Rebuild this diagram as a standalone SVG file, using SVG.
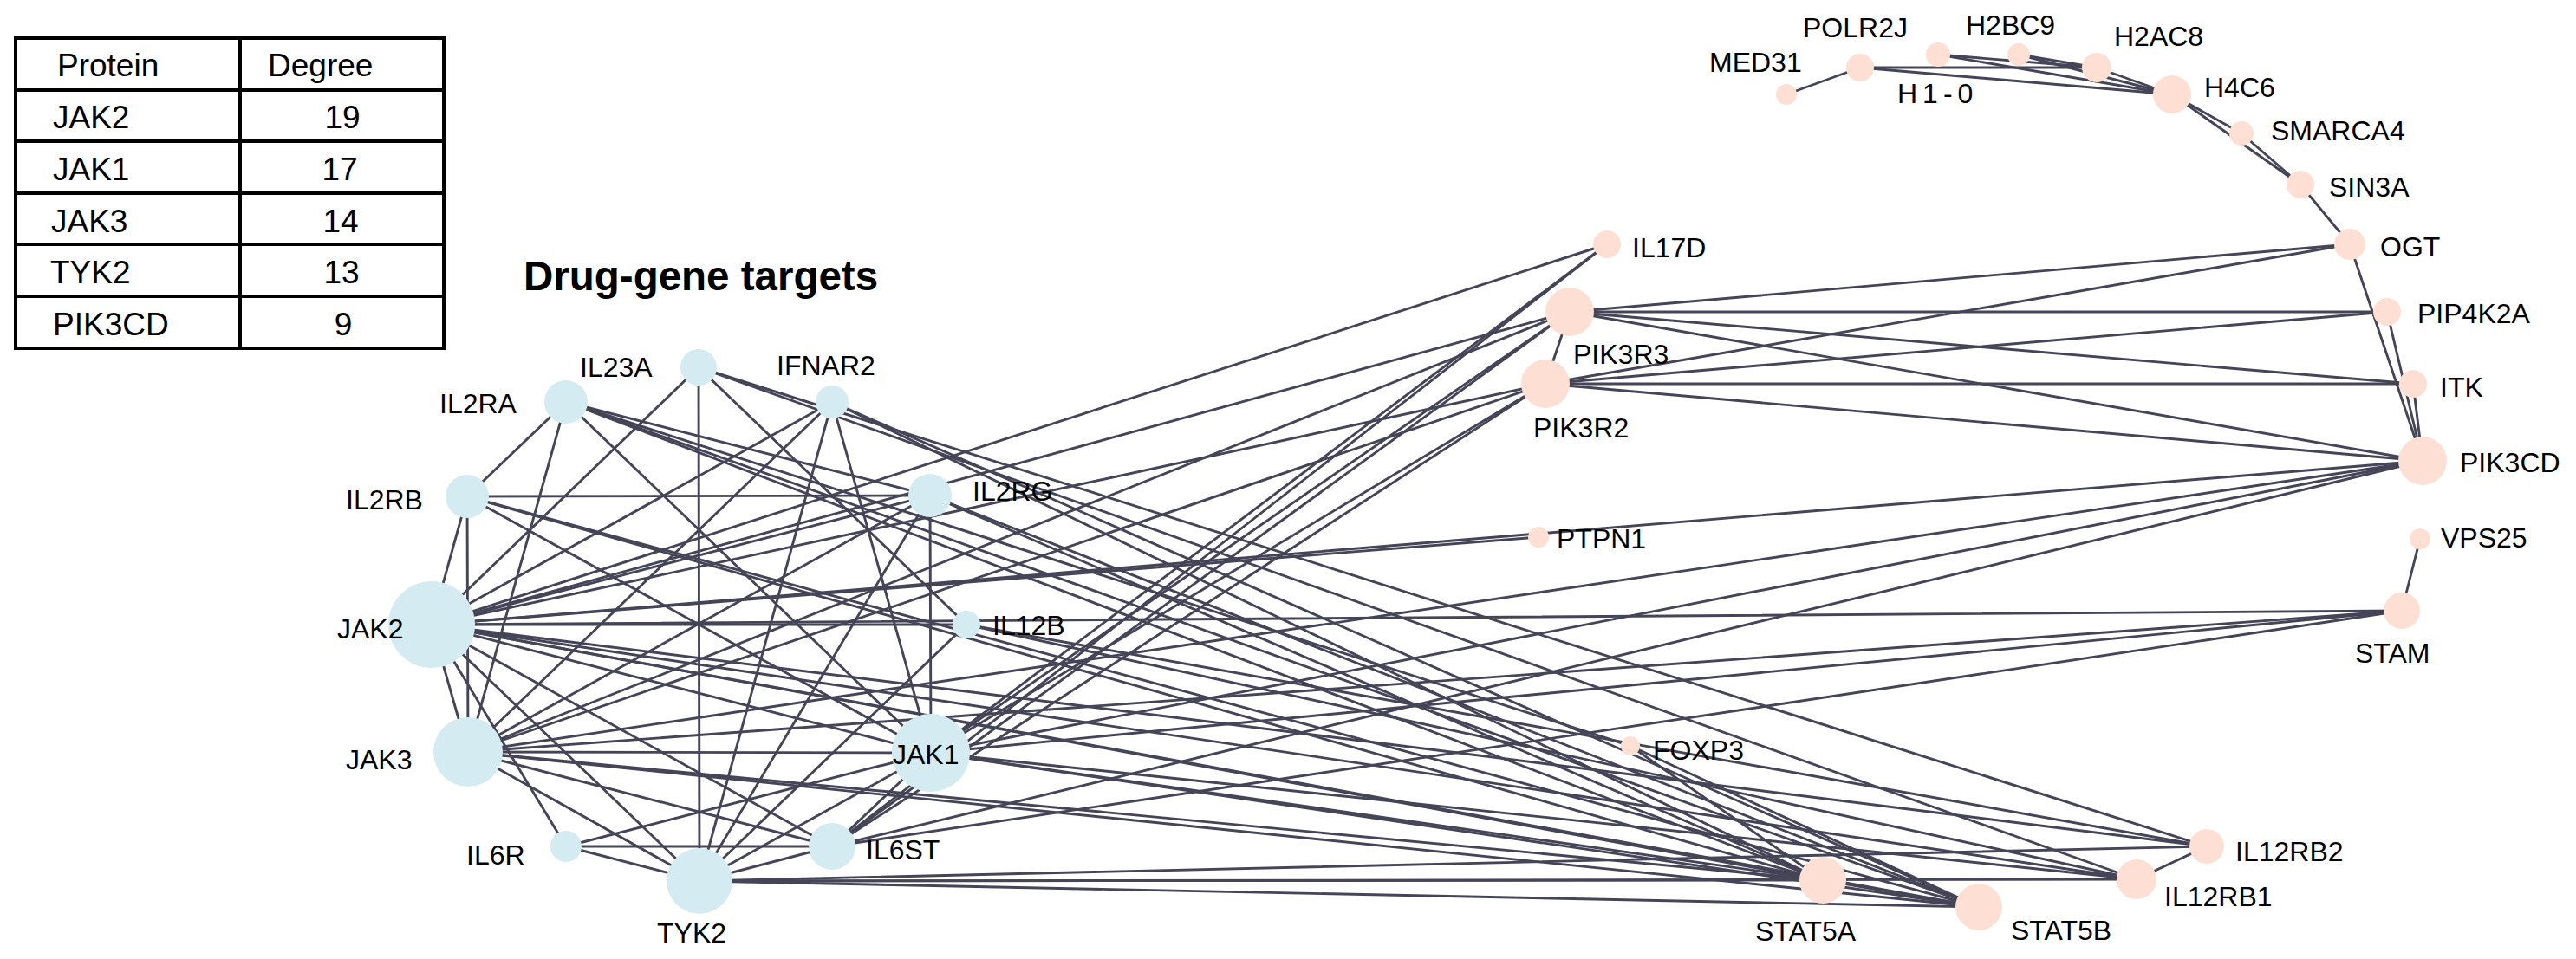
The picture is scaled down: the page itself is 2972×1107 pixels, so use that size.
<svg xmlns="http://www.w3.org/2000/svg" width="2972" height="1107" viewBox="0 0 2972 1107">
<style>
.bg{fill:#ffffff}
.tbl line,.tbl rect{stroke:#000;stroke-width:4;fill:none}
.tt{font-family:"Liberation Sans",Arial,sans-serif;font-size:37px;fill:#000}
.title{font-family:"Liberation Sans",Arial,sans-serif;font-size:47.5px;font-weight:bold;fill:#000}
.edges line{stroke:#454557;stroke-width:2.9;stroke-linecap:round}
.d{fill:#d4ebf2}
.p{fill:#fde0d3}
.lb{font-family:"Liberation Sans",Arial,sans-serif;font-size:32px;fill:#000}
</style>
<rect class="bg" x="0" y="0" width="2972" height="1107"/>
<g id="table" class="tbl">
<rect x="18" y="44" width="494" height="358"/>
<line x1="277" y1="44" x2="277" y2="402"/>
<line x1="18" y1="104" x2="512" y2="104"/>
<line x1="18" y1="163" x2="512" y2="163"/>
<line x1="18" y1="223" x2="512" y2="223"/>
<line x1="18" y1="282" x2="512" y2="282"/>
<line x1="18" y1="342" x2="512" y2="342"/>
</g>
<g id="table-text">
<text class="tt" x="66" y="88">Protein</text>
<text class="tt" x="309" y="88">Degree</text>
<text class="tt" x="61" y="148">JAK2</text>
<text class="tt" x="61" y="208">JAK1</text>
<text class="tt" x="59" y="268">JAK3</text>
<text class="tt" x="58" y="327">TYK2</text>
<text class="tt" x="61" y="387">PIK3CD</text>
<text class="tt" x="395" y="148" text-anchor="middle">19</text>
<text class="tt" x="392" y="208" text-anchor="middle">17</text>
<text class="tt" x="393" y="268" text-anchor="middle">14</text>
<text class="tt" x="394" y="327" text-anchor="middle">13</text>
<text class="tt" x="396" y="387" text-anchor="middle">9</text>
</g>
<text id="title" class="title" x="604" y="335">Drug-gene targets</text>
<g id="edges" class="edges">
<line x1="498" y1="721" x2="539" y2="573"/>
<line x1="498" y1="721" x2="806" y2="424"/>
<line x1="498" y1="721" x2="960" y2="464"/>
<line x1="498" y1="721" x2="1073" y2="572"/>
<line x1="498" y1="721" x2="1115" y2="721"/>
<line x1="498" y1="721" x2="1074" y2="869"/>
<line x1="498" y1="721" x2="960" y2="977"/>
<line x1="498" y1="721" x2="807" y2="1017"/>
<line x1="498" y1="721" x2="653" y2="977"/>
<line x1="498" y1="721" x2="540" y2="868"/>
<line x1="540" y1="868" x2="539" y2="573"/>
<line x1="540" y1="868" x2="653" y2="464"/>
<line x1="540" y1="868" x2="1073" y2="572"/>
<line x1="540" y1="868" x2="960" y2="464"/>
<line x1="540" y1="868" x2="1074" y2="869"/>
<line x1="540" y1="868" x2="807" y2="1017"/>
<line x1="540" y1="868" x2="960" y2="977"/>
<line x1="1074" y1="869" x2="653" y2="464"/>
<line x1="1074" y1="869" x2="539" y2="573"/>
<line x1="1074" y1="869" x2="1073" y2="572"/>
<line x1="1074" y1="869" x2="960" y2="464"/>
<line x1="1074" y1="869" x2="653" y2="977"/>
<line x1="1074" y1="869" x2="960" y2="977"/>
<line x1="1074" y1="869" x2="807" y2="1017"/>
<line x1="807" y1="1017" x2="806" y2="424"/>
<line x1="807" y1="1017" x2="960" y2="464"/>
<line x1="807" y1="1017" x2="1115" y2="721"/>
<line x1="807" y1="1017" x2="960" y2="977"/>
<line x1="807" y1="1017" x2="653" y2="977"/>
<line x1="807" y1="1017" x2="1073" y2="572"/>
<line x1="653" y1="977" x2="960" y2="977"/>
<line x1="653" y1="464" x2="539" y2="573"/>
<line x1="539" y1="573" x2="1073" y2="572"/>
<line x1="653" y1="464" x2="1073" y2="572"/>
<line x1="806" y1="424" x2="1115" y2="721"/>
<line x1="498" y1="721" x2="1854" y2="282"/>
<line x1="498" y1="721" x2="1811" y2="360"/>
<line x1="498" y1="721" x2="1783" y2="443"/>
<line x1="498" y1="721" x2="1775" y2="620"/>
<line x1="498" y1="721" x2="2795" y2="532"/>
<line x1="498" y1="721" x2="2771" y2="705"/>
<line x1="498" y1="721" x2="2103" y2="1016"/>
<line x1="498" y1="721" x2="2283" y2="1047"/>
<line x1="498" y1="721" x2="2465" y2="1015"/>
<line x1="498" y1="721" x2="2546" y2="977"/>
<line x1="540" y1="868" x2="1811" y2="360"/>
<line x1="540" y1="868" x2="1783" y2="443"/>
<line x1="540" y1="868" x2="2795" y2="532"/>
<line x1="540" y1="868" x2="2771" y2="705"/>
<line x1="540" y1="868" x2="2103" y2="1016"/>
<line x1="540" y1="868" x2="2283" y2="1047"/>
<line x1="1074" y1="869" x2="1854" y2="282"/>
<line x1="1074" y1="869" x2="1811" y2="360"/>
<line x1="1074" y1="869" x2="1783" y2="443"/>
<line x1="1074" y1="869" x2="2795" y2="532"/>
<line x1="1074" y1="869" x2="2771" y2="705"/>
<line x1="1074" y1="869" x2="2103" y2="1016"/>
<line x1="1074" y1="869" x2="2283" y2="1047"/>
<line x1="1074" y1="869" x2="2465" y2="1015"/>
<line x1="960" y1="977" x2="1854" y2="282"/>
<line x1="960" y1="977" x2="1811" y2="360"/>
<line x1="960" y1="977" x2="1783" y2="443"/>
<line x1="960" y1="977" x2="2795" y2="532"/>
<line x1="960" y1="977" x2="2771" y2="705"/>
<line x1="807" y1="1017" x2="2103" y2="1016"/>
<line x1="807" y1="1017" x2="2283" y2="1047"/>
<line x1="807" y1="1017" x2="2465" y2="1015"/>
<line x1="807" y1="1017" x2="2546" y2="977"/>
<line x1="653" y1="464" x2="2103" y2="1016"/>
<line x1="653" y1="464" x2="2283" y2="1047"/>
<line x1="653" y1="464" x2="1881" y2="861"/>
<line x1="539" y1="573" x2="2103" y2="1016"/>
<line x1="539" y1="573" x2="2283" y2="1047"/>
<line x1="1073" y1="572" x2="2103" y2="1016"/>
<line x1="1073" y1="572" x2="2283" y2="1047"/>
<line x1="960" y1="464" x2="2103" y2="1016"/>
<line x1="960" y1="464" x2="2283" y2="1047"/>
<line x1="806" y1="424" x2="2465" y2="1015"/>
<line x1="806" y1="424" x2="2546" y2="977"/>
<line x1="1115" y1="721" x2="2465" y2="1015"/>
<line x1="1115" y1="721" x2="2546" y2="977"/>
<line x1="2465" y1="1015" x2="2546" y2="977"/>
<line x1="1881" y1="861" x2="2103" y2="1016"/>
<line x1="1881" y1="861" x2="2283" y2="1047"/>
<line x1="2103" y1="1016" x2="2283" y2="1047"/>
<line x1="1811" y1="360" x2="1783" y2="443"/>
<line x1="1811" y1="360" x2="2711" y2="282"/>
<line x1="1811" y1="360" x2="2754" y2="360"/>
<line x1="1811" y1="360" x2="2784" y2="443"/>
<line x1="1811" y1="360" x2="2795" y2="532"/>
<line x1="1783" y1="443" x2="2711" y2="282"/>
<line x1="1783" y1="443" x2="2754" y2="360"/>
<line x1="1783" y1="443" x2="2784" y2="443"/>
<line x1="1783" y1="443" x2="2795" y2="532"/>
<line x1="2711" y1="282" x2="2795" y2="532"/>
<line x1="2754" y1="360" x2="2795" y2="532"/>
<line x1="2784" y1="443" x2="2795" y2="532"/>
<line x1="2792" y1="622" x2="2771" y2="705"/>
<line x1="2061" y1="109" x2="2146" y2="78"/>
<line x1="2146" y1="78" x2="2419" y2="78"/>
<line x1="2146" y1="78" x2="2506" y2="109"/>
<line x1="2236" y1="63" x2="2419" y2="78"/>
<line x1="2236" y1="63" x2="2506" y2="109"/>
<line x1="2329" y1="63" x2="2419" y2="78"/>
<line x1="2329" y1="63" x2="2506" y2="109"/>
<line x1="2419" y1="78" x2="2506" y2="109"/>
<line x1="2506" y1="109" x2="2586" y2="154"/>
<line x1="2506" y1="109" x2="2654" y2="213"/>
<line x1="2586" y1="154" x2="2654" y2="213"/>
<line x1="2654" y1="213" x2="2711" y2="282"/>
</g>
<g id="nodes">
<g id="n-JAK2"><circle class="d" cx="498" cy="721" r="50"/><text class="lb" x="389" y="737">JAK2</text></g>
<g id="n-JAK3"><circle class="d" cx="540" cy="868" r="40"/><text class="lb" x="399" y="888">JAK3</text></g>
<g id="n-JAK1"><circle class="d" cx="1074" cy="869" r="45"/><text class="lb" x="1030" y="882">JAK1</text></g>
<g id="n-TYK2"><circle class="d" cx="807" cy="1017" r="38"/><text class="lb" x="758" y="1088">TYK2</text></g>
<g id="n-IL2RA"><circle class="d" cx="653" cy="464" r="25"/><text class="lb" x="507" y="477">IL2RA</text></g>
<g id="n-IL2RB"><circle class="d" cx="539" cy="573" r="25"/><text class="lb" x="399" y="588">IL2RB</text></g>
<g id="n-IL2RG"><circle class="d" cx="1073" cy="572" r="25"/><text class="lb" x="1122" y="578">IL2RG</text></g>
<g id="n-IL23A"><circle class="d" cx="806" cy="424" r="21"/><text class="lb" x="669" y="435">IL23A</text></g>
<g id="n-IFNAR2"><circle class="d" cx="960" cy="464" r="19"/><text class="lb" x="896" y="433">IFNAR2</text></g>
<g id="n-IL12B"><circle class="d" cx="1115" cy="721" r="16"/><text class="lb" x="1145" y="733">IL12B</text></g>
<g id="n-IL6R"><circle class="d" cx="653" cy="977" r="18"/><text class="lb" x="538" y="998">IL6R</text></g>
<g id="n-IL6ST"><circle class="d" cx="960" cy="977" r="27"/><text class="lb" x="999" y="992">IL6ST</text></g>
<g id="n-IL17D"><circle class="p" cx="1854" cy="282" r="16"/><text class="lb" x="1883" y="297">IL17D</text></g>
<g id="n-PIK3R3"><circle class="p" cx="1811" cy="360" r="28"/><text class="lb" x="1815" y="420">PIK3R3</text></g>
<g id="n-PIK3R2"><circle class="p" cx="1783" cy="443" r="28"/><text class="lb" x="1769" y="505">PIK3R2</text></g>
<g id="n-PTPN1"><circle class="p" cx="1775" cy="620" r="12"/><text class="lb" x="1796" y="633">PTPN1</text></g>
<g id="n-FOXP3"><circle class="p" cx="1881" cy="861" r="11"/><text class="lb" x="1907" y="877">FOXP3</text></g>
<g id="n-MED31"><circle class="p" cx="2061" cy="109" r="12"/><text class="lb" x="1972" y="83">MED31</text></g>
<g id="n-POLR2J"><circle class="p" cx="2146" cy="78" r="16"/><text class="lb" x="2080" y="43">POLR2J</text></g>
<g id="n-H1-0"><circle class="p" cx="2236" cy="63" r="14"/><text class="lb" x="2189" y="119" letter-spacing="6">H1-0</text></g>
<g id="n-H2BC9"><circle class="p" cx="2329" cy="63" r="13"/><text class="lb" x="2268" y="40">H2BC9</text></g>
<g id="n-H2AC8"><circle class="p" cx="2419" cy="78" r="17"/><text class="lb" x="2439" y="53">H2AC8</text></g>
<g id="n-H4C6"><circle class="p" cx="2506" cy="109" r="22"/><text class="lb" x="2543" y="112">H4C6</text></g>
<g id="n-SMARCA4"><circle class="p" cx="2586" cy="154" r="14"/><text class="lb" x="2620" y="162">SMARCA4</text></g>
<g id="n-SIN3A"><circle class="p" cx="2654" cy="213" r="16"/><text class="lb" x="2687" y="227">SIN3A</text></g>
<g id="n-OGT"><circle class="p" cx="2711" cy="282" r="18"/><text class="lb" x="2746" y="296">OGT</text></g>
<g id="n-PIP4K2A"><circle class="p" cx="2754" cy="360" r="16"/><text class="lb" x="2789" y="373">PIP4K2A</text></g>
<g id="n-ITK"><circle class="p" cx="2784" cy="443" r="16"/><text class="lb" x="2815" y="458">ITK</text></g>
<g id="n-PIK3CD"><circle class="p" cx="2795" cy="532" r="28"/><text class="lb" x="2838" y="545">PIK3CD</text></g>
<g id="n-VPS25"><circle class="p" cx="2792" cy="622" r="12"/><text class="lb" x="2816" y="632">VPS25</text></g>
<g id="n-STAM"><circle class="p" cx="2771" cy="705" r="21"/><text class="lb" x="2717" y="765">STAM</text></g>
<g id="n-IL12RB2"><circle class="p" cx="2546" cy="977" r="20"/><text class="lb" x="2579" y="994">IL12RB2</text></g>
<g id="n-IL12RB1"><circle class="p" cx="2465" cy="1015" r="23"/><text class="lb" x="2497" y="1046">IL12RB1</text></g>
<g id="n-STAT5A"><circle class="p" cx="2103" cy="1016" r="27"/><text class="lb" x="2025" y="1086">STAT5A</text></g>
<g id="n-STAT5B"><circle class="p" cx="2283" cy="1047" r="27"/><text class="lb" x="2320" y="1085">STAT5B</text></g>
</g>
</svg>
